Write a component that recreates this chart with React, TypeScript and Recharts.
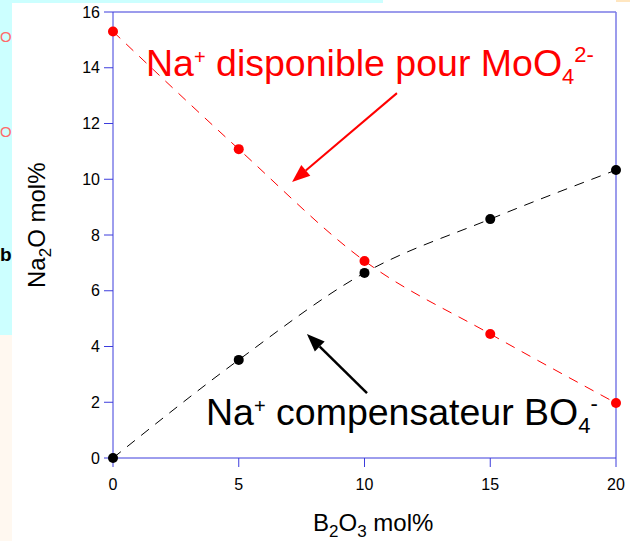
import React from 'react';
import { LineChart, Line, XAxis, YAxis, ReferenceLine } from 'recharts';

// B2O3 content (mol%) and Na2O distribution (mol%)
const b2o3 = [0, 5, 10, 15, 20];
const naFree = [15.3, 11.08, 7.07, 4.45, 1.97];
const naBO4 = [0, 3.52, 6.64, 8.57, 10.33];

const xTicks = [0, 5, 10, 15, 20];
const yTicks = [0, 2, 4, 6, 8, 10, 12, 14, 16];

const data = b2o3.map((x, i) => ({ x, free: naFree[i], bo4: naBO4[i] }));

const FONT = '"Liberation Sans", Arial, sans-serif';
const AXIS = '#3c3cdc';
const FRAME = '#7a7ae6';

const Arrow = (color: string, width: number) => (props: any) => {
  const { x1, y1, x2, y2 } = props;
  const dx = x2 - x1;
  const dy = y2 - y1;
  const len = Math.sqrt(dx * dx + dy * dy);
  const ux = dx / len;
  const uy = dy / len;
  const head = 18;
  const half = 7;
  const bx = x2 - ux * head;
  const by = y2 - uy * head;
  return (
    <g>
      <line x1={x1} y1={y1} x2={bx} y2={by} stroke={color} strokeWidth={width} />
      <polygon
        points={`${x2},${y2} ${bx - uy * half},${by + ux * half} ${bx + uy * half},${by - ux * half}`}
        fill={color}
      />
    </g>
  );
};

export default function App() {
  return (
    <div style={{ position: 'absolute', left: 0, top: 0, width: 630, height: 541, overflow: 'hidden', background: '#fff' }}>
      {/* slide background strips */}
      <div style={{ position: 'absolute', left: 0, top: 0, width: 12, height: 335, background: '#ccffff', fontFamily: FONT }}>
        <div style={{ position: 'absolute', left: 0, top: 28, color: '#ff6a6a', fontSize: 15, lineHeight: '18px' }}>O</div>
        <div style={{ position: 'absolute', left: 0, top: 123, color: '#ff6a6a', fontSize: 15, lineHeight: '18px' }}>O</div>
        <div style={{ position: 'absolute', left: 0, top: 243, color: '#000', fontSize: 19, fontWeight: 'bold', lineHeight: '24px' }}>b</div>
      </div>
      <div style={{ position: 'absolute', left: 0, top: 335, width: 12, height: 206, background: '#fff8f0' }} />
      <div style={{ position: 'absolute', left: 12, top: 0, width: 371, height: 3, background: '#ccffff' }} />
      <div style={{ position: 'absolute', left: 616, top: 0, width: 14, height: 2, background: '#ffe6c0' }} />

      <div style={{ position: 'absolute', left: 0, top: 0 }}>
        <LineChart width={630} height={541} data={data} margin={{ top: 12, right: 14, bottom: 0, left: 0 }}>
          <XAxis
            dataKey="x"
            type="number"
            domain={[0, 20]}
            ticks={xTicks}
            height={83}
            stroke={AXIS}
            tickSize={9}
            tickMargin={12}
            tick={{ fill: '#000', fontSize: 16, fontFamily: FONT }}
          />
          <YAxis
            type="number"
            domain={[0, 16]}
            ticks={yTicks}
            width={113}
            stroke={AXIS}
            tickSize={9}
            tickMargin={4}
            tick={{ fill: '#000', fontSize: 16, fontFamily: FONT }}
          />
          <ReferenceLine y={16} stroke={FRAME} strokeWidth={1.5} />
          <ReferenceLine x={20} stroke={FRAME} strokeWidth={1.5} />
          <ReferenceLine
            segment={[{ x: 11.29, y: 13.09 }, { x: 7.12, y: 9.9 }]}
            shape={Arrow('#ff0000', 2)}
          />
          <ReferenceLine
            segment={[{ x: 10.1, y: 2.33 }, { x: 7.71, y: 4.45 }]}
            shape={Arrow('#000000', 2.5)}
          />
          <Line
            type="monotone"
            dataKey="free"
            stroke="#ff0000"
            strokeWidth={1}
            strokeDasharray="10 8"
            dot={{ r: 5, fill: '#ff0000', stroke: 'none' }}
            isAnimationActive={false}
          />
          <Line
            type="monotone"
            dataKey="bo4"
            stroke="#000000"
            strokeWidth={1}
            strokeDasharray="10 8"
            dot={{ r: 5, fill: '#000000', stroke: 'none' }}
            isAnimationActive={false}
          />
        </LineChart>
      </div>

      <svg width={630} height={541} style={{ position: 'absolute', left: 0, top: 0, pointerEvents: 'none' }}>
        <text x={146} y={76} fill="#ff0000" fontSize={37.5} fontFamily={FONT}>
          Na<tspan fontSize={20} dy={-12}>+</tspan>
          <tspan dy={12}> disponible pour MoO</tspan>
          <tspan fontSize={22} dy={8}>4</tspan>
          <tspan fontSize={22} dy={-22}>2-</tspan>
        </text>
        <text x={206} y={425} fill="#000" fontSize={37.5} fontFamily={FONT}>
          Na<tspan fontSize={20} dy={-12}>+</tspan>
          <tspan dy={12}> compensateur BO</tspan>
          <tspan fontSize={22} dy={8}>4</tspan>
          <tspan fontSize={22} dy={-22}>-</tspan>
        </text>
        <text x={313} y={531} fill="#000" fontSize={24} fontFamily={FONT}>
          B<tspan fontSize={17} dy={6}>2</tspan>
          <tspan dy={-6}>O</tspan>
          <tspan fontSize={17} dy={6}>3</tspan>
          <tspan dy={-6}> mol%</tspan>
        </text>
        <text transform="translate(45,288) rotate(-90)" fill="#000" fontSize={24} fontFamily={FONT}>
          Na<tspan fontSize={17} dy={6}>2</tspan>
          <tspan dy={-6}>O mol%</tspan>
        </text>
      </svg>
    </div>
  );
}
